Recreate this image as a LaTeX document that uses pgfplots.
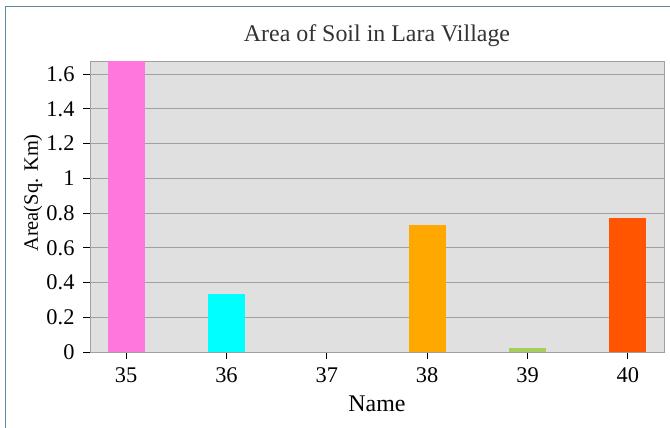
\documentclass[border=0pt]{standalone}
\usepackage{pgfplots}
\pgfplotsset{compat=1.18}
\usepackage{fontspec}
\setmainfont{Liberation Serif}
\definecolor{framec}{HTML}{5B8BA0}
\definecolor{bgc}{HTML}{E0E0E0}
\definecolor{gridc}{HTML}{A0A0A0}
\definecolor{c35}{HTML}{FF77DD}
\definecolor{c36}{HTML}{00FFFF}
\definecolor{c38}{HTML}{FFA800}
\definecolor{c39}{HTML}{A6CE5C}
\definecolor{c40}{HTML}{FF5500}
\begin{document}
\begin{tikzpicture}
\path[use as bounding box] (0bp,0bp) rectangle (670bp,428bp);
\draw[framec, line width=1.5bp] (5.5bp,0bp) -- (5.5bp,421.5bp) -- (670bp,421.5bp);
\begin{axis}[
  at={(90bp,76bp)}, anchor=south west,
  scale only axis, width=574bp, height=290bp,
  xmin=-0.36, xmax=5.36, ymin=0, ymax=1.67,
  axis background/.style={fill=bgc},
  axis line style={gridc, line width=1bp},
  ymajorgrids, grid style={gridc, line width=1bp},
  ytick={0,0.2,0.4,0.6,0.8,1,1.2,1.4,1.6},
  yticklabels={0,0.2,0.4,0.6,0.8,1,1.2,1.4,1.6},
  xtick={0,1,2,3,4,5},
  xticklabels={35,36,37,38,39,40},
  tick align=outside, tick pos=left,
  major tick length=7bp,
  tick style={black, line width=0.8bp},
  ticklabel style={font=\fontsize{22.5}{22.5}\selectfont},
  xticklabel style={anchor=base, yshift=-23bp},
  yticklabel style={anchor=east, xshift=-5bp},
  title={Area of Soil in Lara Village},
  title style={font=\fontsize{24}{24}\selectfont, text=black!80, at={(0.5,1)}, anchor=base, yshift=15bp},
  xlabel={Name},
  xlabel style={font=\fontsize{24}{24}\selectfont, at={(0.5,0)}, anchor=base, yshift=-59bp},
  ylabel={Area(Sq. Km)},
  ylabel style={font=\fontsize{20.5}{20.5}\selectfont, at={(0,0.5)}, anchor=center, yshift=57bp, xshift=14bp},
  ybar, bar width=37bp, bar shift=0pt,
  clip=true,
]
\addplot[draw=none, fill=c35] coordinates {(0,1.70)};
\addplot[draw=none, fill=c36] coordinates {(1,0.334)};
\addplot[draw=none, fill=c38] coordinates {(3,0.73)};
\addplot[draw=none, fill=c39] coordinates {(4,0.025)};
\addplot[draw=none, fill=c40] coordinates {(5,0.771)};
\end{axis}
\end{tikzpicture}
\end{document}
